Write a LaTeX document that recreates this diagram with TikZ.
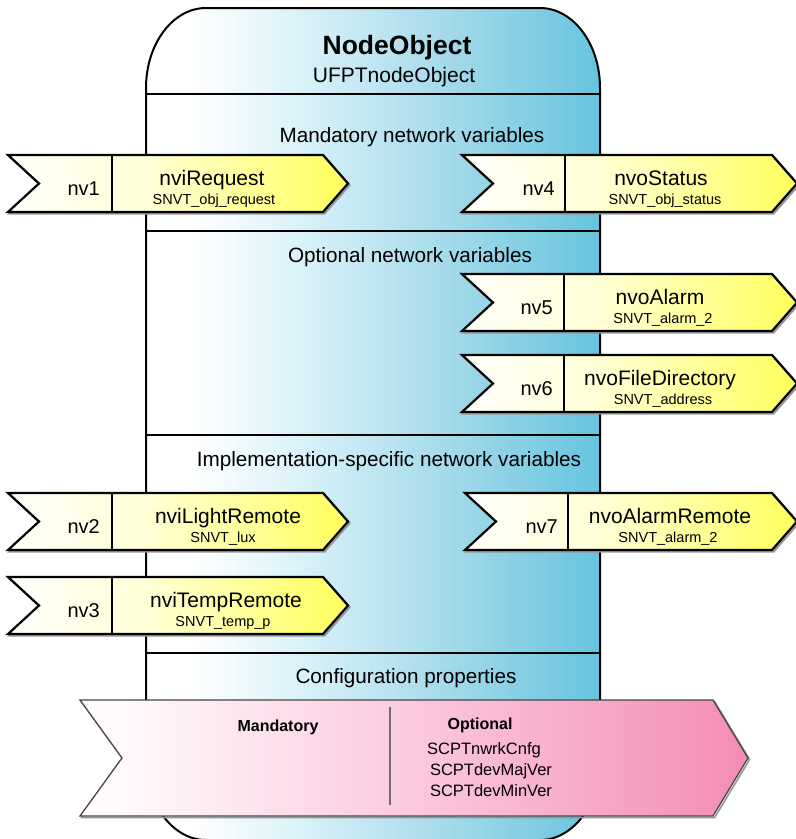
\documentclass[tikz,border=0pt]{standalone}
\usepackage{fontspec}
\setmainfont{Liberation Sans}
\definecolor{boxA}{RGB}{218,242,249}
\definecolor{boxB}{RGB}{165,218,234}
\definecolor{boxC}{RGB}{102,196,222}
\definecolor{yA}{RGB}{255,255,248}
\definecolor{yB}{RGB}{255,255,215}
\definecolor{yC}{RGB}{255,255,92}
\definecolor{pA}{RGB}{255,250,252}
\definecolor{pB}{RGB}{251,200,222}
\definecolor{pC}{RGB}{244,140,182}
\definecolor{shadowgray}{RGB}{150,150,150}
\pgfdeclarehorizontalshading{boxshade}{100bp}{color(0bp)=(white); color(30bp)=(white); color(42bp)=(boxA); color(58bp)=(boxB); color(75bp)=(boxC); color(100bp)=(boxC)}
\pgfdeclarehorizontalshading{yshade}{100bp}{color(0bp)=(yA); color(27bp)=(yA); color(45bp)=(yB); color(75bp)=(yC); color(100bp)=(yC)}
\pgfdeclarehorizontalshading{pshade}{100bp}{color(0bp)=(pA); color(28bp)=(pA); color(50bp)=(pB); color(75bp)=(pC); color(100bp)=(pC)}
\newcommand{\nvarrow}[5]{%
  \pgfmathsetmacro{\ym}{(#2+#3)/2}%
  \pgfmathsetmacro{\xn}{#1+31}%
  \pgfmathsetmacro{\xs}{#5-25}%
  \path[draw=shadowgray, line width=2pt, line join=miter, shift={(1.6,1.6)}] (#1,#2) -- (\xn,\ym) -- (#1,#3) -- (\xs,#3) -- (#5,\ym) -- (\xs,#2) -- cycle;
  \path[draw=black, line width=2.2pt, line join=miter, shading=yshade] (#1,#2) -- (\xn,\ym) -- (#1,#3) -- (\xs,#3) -- (#5,\ym) -- (\xs,#2) -- cycle;
  \draw[line width=1.5pt] (#4,#2) -- (#4,#3);
}
\begin{document}
\begin{tikzpicture}[x=1pt,y=-1pt,
  head/.style={font=\fontsize{20.7}{24}\selectfont, inner sep=0pt, anchor=base},
  lbl/.style={font=\fontsize{20}{24}\selectfont, inner sep=0pt, anchor=base east},
  ttl/.style={font=\fontsize{21}{24}\selectfont, inner sep=0pt, anchor=base},
  sub/.style={font=\fontsize{14.5}{17}\selectfont, inner sep=0pt, anchor=base},
  cfg/.style={font=\fontsize{16.5}{19}\selectfont, inner sep=0pt, anchor=base},
  sepline/.style={line width=1.5pt}]
\useasboundingbox (0,0) rectangle (796,839);

% main object body
\path[draw=black, line width=2pt, shading=boxshade]
  (146,88) arc[start angle=180,end angle=270,x radius=60,y radius=80]
  -- (540,8) arc[start angle=270,end angle=360,x radius=60,y radius=80]
  -- (600,760) arc[start angle=0,end angle=90,x radius=60,y radius=80]
  -- (206,840) arc[start angle=90,end angle=180,x radius=60,y radius=80]
  -- cycle;

\draw[sepline] (146,94) -- (600,94);
\draw[sepline] (146,231) -- (600,231);
\draw[sepline] (146,435) -- (600,435);
\draw[sepline] (146,653) -- (600,653);

\node[font=\bfseries\fontsize{26.5}{30}\selectfont, inner sep=0pt, anchor=base] (title) at (397,54.5) {NodeObject};
\node[font=\fontsize{21}{24}\selectfont, inner sep=0pt, anchor=base] (type) at (394,82.5) {UFPTnodeObject};
\node[head] (hmand) at (412,142.4) {Mandatory network variables};
\node[head] (hopt) at (410,262.4) {Optional network variables};
\node[head] (himpl) at (389,466.4) {Implementation-specific network variables};
\node[head] (hcfg) at (406,683.4) {Configuration properties};

% network variable arrows
\nvarrow{8}{155}{212}{112}{348}
\node[lbl] (nv1l) at (100,195) {nv1};
\node[ttl] (nv1t) at (212,185) {nviRequest};
\node[sub] (nv1s) at (214,204) {SNVT\_obj\_request};

\nvarrow{462}{155}{212}{565}{797}
\node[lbl] (nv4l) at (555,195) {nv4};
\node[ttl] (nv4t) at (661,185) {nvoStatus};
\node[sub] (nv4s) at (665,204) {SNVT\_obj\_status};

\nvarrow{462}{274}{331}{564}{797}
\node[lbl] (nv5l) at (553,314) {nv5};
\node[ttl] (nv5t) at (660,304) {nvoAlarm};
\node[sub] (nv5s) at (663,323) {SNVT\_alarm\_2};

\nvarrow{462}{355}{412}{564}{797}
\node[lbl] (nv6l) at (553,395) {nv6};
\node[ttl] (nv6t) at (660,385) {nvoFileDirectory};
\node[sub] (nv6s) at (663,404) {SNVT\_address};

\nvarrow{8}{493}{550}{112}{348}
\node[lbl] (nv2l) at (100,533) {nv2};
\node[ttl] (nv2t) at (228,523) {nviLightRemote};
\node[sub] (nv2s) at (223,542) {SNVT\_lux};

\nvarrow{8}{577}{634}{112}{348}
\node[lbl] (nv3l) at (100,617) {nv3};
\node[ttl] (nv3t) at (226,607) {nviTempRemote};
\node[sub] (nv3s) at (223,626) {SNVT\_temp\_p};

\nvarrow{465}{493}{550}{568}{797}
\node[lbl] (nv7l) at (558,533) {nv7};
\node[ttl] (nv7t) at (670,523) {nvoAlarmRemote};
\node[sub] (nv7s) at (668,542) {SNVT\_alarm\_2};

% configuration properties arrow
\path[draw=shadowgray, line width=1.6pt, line join=miter, shift={(1.6,1.6)}]
  (80,700) -- (122,758) -- (80,816) -- (713,816) -- (748,758) -- (713,700) -- cycle;
\path[draw={rgb,255:red,70;green,70;blue,70}, line width=1.3pt, line join=miter, shading=pshade]
  (80,700) -- (122,758) -- (80,816) -- (713,816) -- (748,758) -- (713,700) -- cycle;
\draw[line width=1.2pt, draw={rgb,255:red,110;green,110;blue,110}] (390,707) -- (390,805);
\node[cfg, font=\bfseries\fontsize{16}{19}\selectfont] (cmand) at (278,731) {Mandatory};
\node[cfg, font=\bfseries\fontsize{16}{19}\selectfont] (copt) at (480,729) {Optional};
\node[cfg] (c1) at (484,754) {SCPTnwrkCnfg};
\node[cfg] (c2) at (491,775) {SCPTdevMajVer};
\node[cfg] (c3) at (491,796) {SCPTdevMinVer};
\end{tikzpicture}
\end{document}
